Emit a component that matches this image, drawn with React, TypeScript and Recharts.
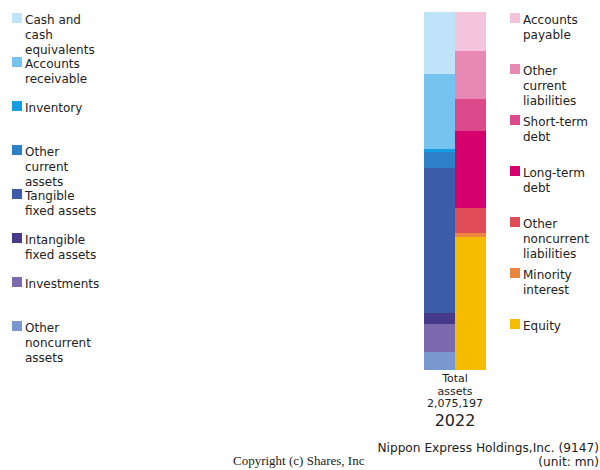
import { Bar, BarChart, XAxis, YAxis } from "recharts";

const year = "2022";
const totalAssets = 2075197;

// left column, top to bottom
const assetLabels = [
  ["Cash and", "cash", "equivalents"],
  ["Accounts", "receivable"],
  ["Inventory"],
  ["Other", "current", "assets"],
  ["Tangible", "fixed assets"],
  ["Intangible", "fixed assets"],
  ["Investments"],
  ["Other", "noncurrent", "assets"],
];
const assetValues = [359400, 434800, 17400, 92800, 840397, 63800, 162300, 104300];

// right column, top to bottom
const liabilityLabels = [
  ["Accounts", "payable"],
  ["Other", "current", "liabilities"],
  ["Short-term", "debt"],
  ["Long-term", "debt"],
  ["Other", "noncurrent", "liabilities"],
  ["Minority", "interest"],
  ["Equity"],
];
const liabilityValues = [226100, 278300, 185500, 446400, 144900, 23200, 770797];

const assetColors = ["#bfe3f8", "#76c3f0", "#129ee0", "#2b80c8", "#3d5ca8", "#46398a", "#7b6aad", "#7a98d0"];
const liabilityColors = ["#f4c4dc", "#e889b5", "#dd4a8c", "#d5006e", "#df4c55", "#ea8640", "#f5bc00"];

const row: Record<string, string | number> = { year };
assetValues.forEach((v, i) => (row[`a${i}`] = v));
liabilityValues.forEach((v, i) => (row[`l${i}`] = v));
const data = [row];

const font = "'DejaVu Sans', sans-serif";

function YearTick({ x, y }: { x?: number; y?: number }) {
  const cx = x ?? 0;
  const top = y ?? 0;
  return (
    <g fontFamily={font} fill="#222" textAnchor="middle">
      <text x={cx} y={top + 4} fontSize={11}>Total</text>
      <text x={cx} y={top + 17} fontSize={11}>assets</text>
      <text x={cx} y={top + 29} fontSize={11}>{totalAssets.toLocaleString("en-US")}</text>
      <text x={cx} y={top + 48} fontSize={16}>{year}</text>
    </g>
  );
}

function LegendList({
  labels,
  colors,
  left,
  top,
  step,
}: {
  labels: string[][];
  colors: string[];
  left: number;
  top: number;
  step: number;
}) {
  return (
    <>
      {labels.map((lines, i) => (
        <div
          key={i}
          style={{ position: "absolute", left, top: top + i * step, display: "flex" }}
        >
          <span style={{ width: 10, height: 10, marginRight: 3, background: colors[i] }} />
          <span style={{ fontSize: 12, lineHeight: "15px", marginTop: 0, color: "#222" }}>
            {lines.map((l, j) => (
              <div key={j}>{l}</div>
            ))}
          </span>
        </div>
      ))}
    </>
  );
}

export default function App() {
  return (
    <div
      style={{
        position: "absolute",
        left: 0,
        top: 0,
        width: 600,
        height: 470,
        background: "#fff",
        fontFamily: font,
      }}
    >
      <BarChart
        width={600}
        height={470}
        data={data}
        margin={{ top: 12, right: 114, bottom: 0, left: 424 }}
        barCategoryGap={0}
        barGap={0}
      >
        <XAxis dataKey="year" height={100} tickLine={false} axisLine={false} tick={<YearTick />} />
        <YAxis hide domain={[0, totalAssets]} />
        {assetValues
          .map((_, i) => i)
          .reverse()
          .map((i) => (
            <Bar
              key={`a${i}`}
              dataKey={`a${i}`}
              stackId="assets"
              fill={assetColors[i]}
              isAnimationActive={false}
            />
          ))}
        {liabilityValues
          .map((_, i) => i)
          .reverse()
          .map((i) => (
            <Bar
              key={`l${i}`}
              dataKey={`l${i}`}
              stackId="liabilities"
              fill={liabilityColors[i]}
              isAnimationActive={false}
            />
          ))}
      </BarChart>

      <LegendList labels={assetLabels} colors={assetColors} left={12} top={13} step={44} />
      <LegendList labels={liabilityLabels} colors={liabilityColors} left={510} top={13} step={51} />

      <div
        style={{
          position: "absolute",
          right: 1,
          top: 441,
          textAlign: "right",
          fontSize: 12.2,
          lineHeight: "14px",
          color: "#222",
        }}
      >
        <div>Nippon Express Holdings,Inc. (9147)</div>
        <div>(unit: mn)</div>
      </div>
      <div
        style={{
          position: "absolute",
          left: 233,
          top: 453,
          fontFamily: "'Liberation Serif', serif",
          fontSize: 13,
          color: "#222",
        }}
      >
        Copyright (c) Shares, Inc
      </div>
    </div>
  );
}
